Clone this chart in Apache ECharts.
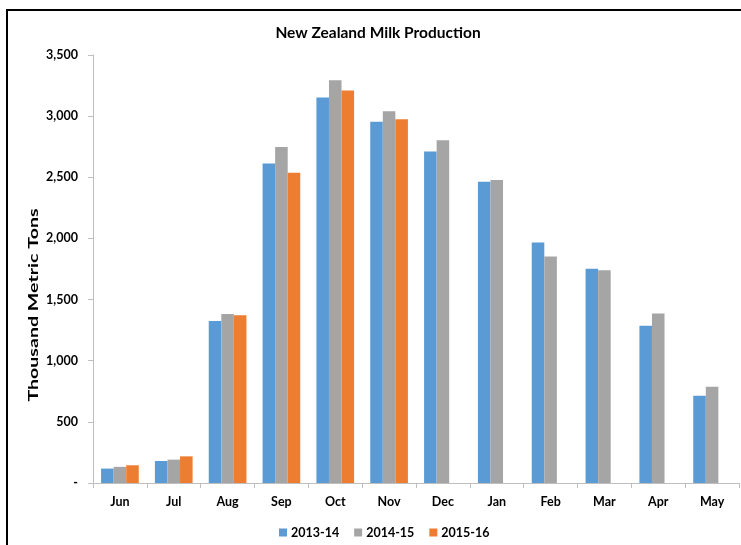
<!DOCTYPE html>
<html>
<head>
<meta charset="utf-8">
<script src="https://cdn.jsdelivr.net/npm/echarts@6/dist/echarts.min.js"></script>
<style>
html,body{margin:0;padding:0;background:#fff;}
#c{width:741px;height:545px;}
</style>
</head>
<body>
<div id="c"></div>
<script>
const categories = ['Jun','Jul','Aug','Sep','Oct','Nov','Dec','Jan','Feb','Mar','Apr','May'];
const s2013 = [118, 180, 1325, 2612, 3152, 2955, 2710, 2463, 1966, 1753, 1286, 713];
const s2014 = [132, 191, 1382, 2748, 3293, 3040, 2802, 2477, 1852, 1740, 1386, 787];
const s2015 = [145, 218, 1371, 2538, 3209, 2974, null, null, null, null, null, null];
const seriesNames = ['2013-14','2014-15','2015-16'];
const colors = ['#5b9bd5','#a5a5a5','#ed7d31'];
const yTicks = [0, 500, 1000, 1500, 2000, 2500, 3000, 3500];

const font = 'Lato, "Open Sans", sans-serif';
const chart = echarts.init(document.getElementById('c'));
const mk = (name, data, i) => ({
  name, type: 'bar', data,
  barGap: '0%', barCategoryGap: '30%',
  itemStyle: {color: colors[i]}
});
chart.setOption({
  animation: false,
  backgroundColor: '#fff',
  textStyle: {fontFamily: font},
  title: {
    text: 'New Zealand Milk Production',
    left: 373, top: 20, textAlign: 'center',
    textStyle: {fontFamily: font, fontSize: 15.5, fontWeight: 'bold', color: '#000'}
  },
  legend: {
    data: seriesNames,
    left: 274, top: 521,
    itemWidth: 8, itemHeight: 8, itemGap: 15,
    icon: 'rect',
    textStyle: {fontFamily: font, fontSize: 12.5, fontWeight: 'bold', color: '#000', padding: [0,0,0,-1]}
  },
  grid: {left: 93, right: 2, top: 55, bottom: 62, containLabel: false},
  xAxis: {
    type: 'category', data: categories,
    axisLine: {lineStyle: {color: '#bfbfbf'}},
    axisTick: {show: true, length: 5, lineStyle: {color: '#bfbfbf'}},
    axisLabel: {fontFamily: font, fontSize: 12.5, fontWeight: 'bold', color: '#000', margin: 12}
  },
  yAxis: {
    type: 'value', min: 0, max: 3500, interval: 500,
    axisLine: {show: true, lineStyle: {color: '#bfbfbf'}},
    axisTick: {show: true, length: 5, lineStyle: {color: '#bfbfbf'}},
    splitLine: {show: false},
    axisLabel: {
      fontFamily: font, fontSize: 12.5, fontWeight: 'bold', color: '#000', margin: 15,
      formatter: v => v === 0 ? '-' : v.toLocaleString('en-US')
    }
  },
  graphic: [
    {type: 'rect', shape: {x: 7, y: 10, width: 800, height: 600}, style: {fill: 'none', stroke: '#000', lineWidth: 2}, silent: true},
    {type: 'text', x: 33, y: 305, rotation: Math.PI/2, scaleX: 1.4, style: {text: 'Thousand Metric Tons', font: 'bold 14px ' + font, fill: '#000', textAlign: 'center', textVerticalAlign: 'middle'}}
  ],
  series: [mk(seriesNames[0], s2013, 0), mk(seriesNames[1], s2014, 1), mk(seriesNames[2], s2015, 2)]
});
</script>
</body>
</html>
